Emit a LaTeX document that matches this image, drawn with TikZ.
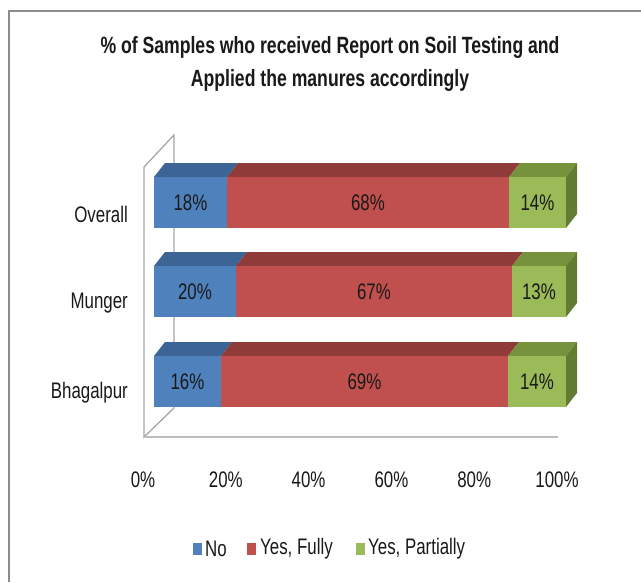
\documentclass[tikz,border=0pt]{standalone}
\usepackage{fontspec}
\setmainfont{Liberation Sans}[FakeStretch=0.75]
\definecolor{noF}{HTML}{4F81BD}
\definecolor{noT}{HTML}{3C6494}
\definecolor{fuF}{HTML}{C0504D}
\definecolor{fuT}{HTML}{8E3B39}
\definecolor{paF}{HTML}{9BBB59}
\definecolor{paT}{HTML}{76923C}
\definecolor{paS}{HTML}{637C34}
\definecolor{framegray}{HTML}{8C8C8C}
\definecolor{wallgray}{HTML}{A6A6A6}
\definecolor{floorgray}{HTML}{BDBDBD}
\begin{document}
\begin{tikzpicture}[x=1pt,y=-1pt,
  lbl/.style={font=\fontsize{22.5}{26}\selectfont, text=black!90, inner sep=0},
  keybox/.style={inner sep=0, minimum width=9, minimum height=12}]
\useasboundingbox (0,0) rectangle (641,582);
\fill[white] (0,0) rectangle (641,582);
% chart area border
\draw[framegray, line width=2] (9,582) -- (9,11) -- (641,11);
% title
\node[font=\bfseries\fontsize{23.5}{33}\selectfont, align=center, text=black!90] (title) at (330,64)
  {\% of Samples who received Report on Soil Testing and\\Applied the manures accordingly};
% side wall, back wall and floor edges
\draw[wallgray, line width=1.3] (174,408) -- (174,135) -- (144,167) -- (144,437) -- (174,408);
\draw[floorgray, line width=2.5] (144,437) -- (558,437);
% stacked 3-D bars: top y, segment ends, labels, name
\def\dx{11}\def\dy{14}\def\bh{51}
\foreach \yt/\xa/\xb/\a/\b/\c/\nm in {177/227/509/18/68/14/ov, 266/236/512/20/67/13/mu, 356/221/508/16/69/14/bh}{
  \pgfmathsetmacro\yb{\yt+\bh}
  % top faces
  \fill[noT] (154,\yt) -- (154+\dx,\yt-\dy) -- (\xa+\dx,\yt-\dy) -- (\xa,\yt) -- cycle;
  \fill[fuT] (\xa,\yt) -- (\xa+\dx,\yt-\dy) -- (\xb+\dx,\yt-\dy) -- (\xb,\yt) -- cycle;
  \fill[paT] (\xb,\yt) -- (\xb+\dx,\yt-\dy) -- (566+\dx,\yt-\dy) -- (566,\yt) -- cycle;
  % right side face
  \fill[paS] (566,\yt) -- (566+\dx,\yt-\dy) -- (566+\dx,\yb-\dy) -- (566,\yb) -- cycle;
  % front faces
  \fill[noF] (154,\yt) rectangle (\xa,\yb);
  \fill[fuF] (\xa,\yt) rectangle (\xb,\yb);
  \fill[paF] (\xb,\yt) rectangle (566,\yb);
  % value labels
  \node[lbl] (\nm-no) at ({(154+\xa)/2},{\yt+\bh/2}) {\a\%};
  \node[lbl] (\nm-fu) at ({(\xa+\xb)/2},{\yt+\bh/2}) {\b\%};
  \node[lbl] (\nm-pa) at ({(\xb+566)/2},{\yt+\bh/2}) {\c\%};
}
% category labels
\node[lbl, anchor=east] (cat-ov) at (128,214) {Overall};
\node[lbl, anchor=east] (cat-mu) at (128,303) {Munger};
\node[lbl, anchor=east] (cat-bh) at (128,393) {Bhagalpur};
% value axis labels
\foreach \i in {0,...,5}{
  \pgfmathtruncatemacro\pc{20*\i}
  \node[lbl] (tick\i) at ({143+82.8*\i},480) {\pc\%};
}
% legend
\node[keybox, fill=noF] (key-no) at (197,549) {};
\node[lbl, anchor=west] (leg-no) at (205,549) {No};
\node[keybox, fill=fuF] (key-fu) at (251.5,549) {};
\node[lbl, anchor=west] (leg-fu) at (260,549) {Yes, Fully};
\node[keybox, fill=paF] (key-pa) at (360.5,549) {};
\node[lbl, anchor=west] (leg-pa) at (368,549) {Yes, Partially};
\end{tikzpicture}
\end{document}
